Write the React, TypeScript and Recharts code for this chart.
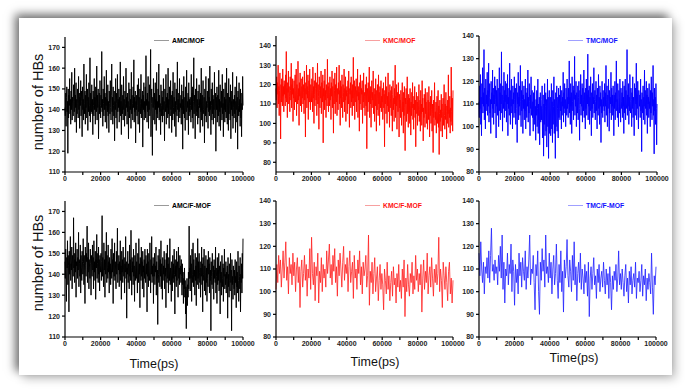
import { LineChart, Line, XAxis, YAxis, Legend } from "recharts";

const AMC_MOF = [
  141,137,148,132,146,151,139,144,119,150,136,147,142,155,138,145,133,149,140,158,135,146,143,137,152,
  144,139,160,134,147,141,153,129,145,138,150,143,136,156,140,148,131,146,142,154,137,149,144,127,151,
  140,145,135,162,143,138,149,133,147,141,157,136,144,150,130,146,139,153,142,137,165,134,148,143,139,
  152,138,145,128,149,142,137,155,140,146,133,151,144,139,161,135,147,141,150,126,143,148,138,154,142,
  136,147,141,168,139,145,132,150,143,137,156,140,148,134,146,142,159,131,145,139,152,137,144,129,149,
  143,138,154,141,135,147,162,139,146,133,151,142,137,149,125,144,140,155,136,148,143,131,157,139,145,
  141,150,134,146,139,163,137,144,128,152,142,138,147,135,156,140,145,132,149,143,137,160,141,146,133,
  148,139,144,126,153,142,136,150,140,145,131,158,138,147,143,135,151,141,164,134,146,139,149,124,144,
  140,147,137,152,142,133,155,139,146,129,150,143,138,157,136,145,141,149,122,147,140,153,135,144,139,
  151,136,166,142,145,134,148,139,156,131,144,140,152,137,147,169,127,143,150,138,118,146,141,155,135,
  142,148,133,153,140,145,130,158,138,144,136,150,141,162,135,147,139,143,128,152,142,137,149,134,146,
  140,155,137,144,125,150,143,139,157,133,146,141,148,136,160,138,145,131,151,142,137,154,140,147,129,
  143,149,135,158,141,138,146,132,153,139,144,127,150,142,137,163,140,145,134,148,139,155,136,143,141,
  147,133,152,140,145,121,149,138,156,142,136,146,130,151,143,139,159,135,144,141,148,128,153,137,145,
  139,146,142,134,157,140,148,136,151,131,144,165,138,147,141,126,150,143,137,155,139,145,133,149,142,
  136,152,141,145,129,148,139,160,135,143,147,132,154,140,138,146,124,150,142,137,156,134,144,141,149,
  143,131,155,139,146,137,161,140,144,128,150,142,135,153,138,147,133,145,140,158,136,143,148,120,146,
  140,151,134,147,142,137,159,132,145,139,152,130,144,141,149,135,157,138,143,127,150,140,146,134,153,
  139,145,136,160,141,133,148,142,130,155,138,146,143,135,152,126,149,140,144,137,158,131,145,141,136,
  147,138,151,129,144,140,156,134,146,121,149,142,137,153,139,145,132,150,136,143,127,148,140,156,142,
];

const KMC_MOF = [
  118,112,124,108,121,115,130,110,119,104,117,126,113,92,120,111,123,116,109,128,114,119,106,122,115,
  120,109,125,113,137,111,118,103,121,116,127,110,119,114,106,124,117,112,131,108,120,115,123,101,118,
  113,122,107,119,125,111,117,128,104,120,115,110,132,112,118,99,121,114,126,109,117,123,106,119,113,
  124,110,116,120,105,127,112,118,93,121,115,130,108,119,113,125,102,117,122,111,128,114,107,120,116,
  111,123,117,106,129,113,119,100,122,115,109,126,118,112,121,104,116,131,110,120,114,97,124,117,108,
  119,113,127,105,121,116,111,125,90,118,114,122,107,128,112,117,103,120,115,109,133,113,119,106,121,
  116,109,124,112,118,102,121,114,127,108,119,113,95,123,110,117,126,105,120,115,111,129,104,118,113,
  107,121,115,130,110,117,99,122,113,119,108,125,114,103,120,116,111,128,106,118,112,124,101,117,114,
  119,105,116,122,110,127,113,98,118,115,121,108,124,111,117,104,120,113,134,109,116,122,102,115,119,
  111,123,106,117,114,128,103,119,112,116,96,121,110,125,113,107,118,115,122,100,117,111,126,108,114,
  116,104,120,112,109,124,87,114,118,106,121,111,115,129,103,117,110,119,98,113,122,108,116,112,127,
  105,113,118,101,115,109,123,111,96,117,107,120,113,104,125,110,116,99,119,112,108,122,106,114,111,
  118,102,113,121,108,115,88,117,110,124,105,112,119,100,114,109,126,106,116,112,98,120,108,113,117,
  104,119,111,96,115,122,107,113,101,118,110,130,103,114,109,120,97,112,116,106,121,111,93,115,108,
  112,103,117,109,99,114,121,106,111,95,116,104,119,108,86,113,110,118,101,107,124,105,112,98,115,
  106,113,100,118,109,94,111,104,116,108,121,102,110,97,114,107,119,103,112,88,109,116,105,111,99,
  114,104,109,120,101,107,112,96,117,105,110,99,122,106,113,91,108,103,115,110,98,118,105,111,100,
  109,116,97,106,112,102,119,108,93,111,104,114,100,107,117,96,110,105,85,112,103,108,121,99,106,
  102,111,95,108,114,100,106,117,98,109,84,105,112,101,107,96,115,103,110,93,106,113,99,108,120,
  104,97,110,102,116,106,92,109,100,112,105,125,98,107,103,114,95,108,101,129,106,99,113,96,117,
];

const TMC_MOF = [
  111,104,118,108,123,101,113,96,119,110,126,106,115,109,134,103,117,111,99,121,107,114,110,124,105,
  116,109,128,102,113,119,106,112,97,120,110,115,104,125,108,117,101,114,110,122,106,118,112,95,116,
  109,121,105,113,117,100,111,126,107,115,103,119,110,133,106,114,98,118,112,108,124,104,116,111,120,
  107,114,102,119,110,123,96,113,108,117,105,128,111,101,116,109,121,106,112,99,118,110,115,104,122,
  112,106,117,101,114,119,108,93,115,110,124,103,113,109,118,105,127,111,100,116,107,120,112,97,114,
  108,118,103,112,107,121,99,115,110,104,117,109,125,102,113,106,119,111,96,114,108,122,105,110,116,
  104,111,98,115,106,101,118,103,109,94,112,105,116,100,108,121,97,110,103,113,92,107,115,102,109,
  103,112,118,95,108,114,87,110,101,119,96,109,115,98,112,91,106,121,100,113,86,108,116,97,110,
  113,96,107,119,99,111,93,116,101,109,122,97,112,103,86,115,100,110,118,98,108,113,95,117,104,
  108,114,103,118,107,111,99,116,105,113,109,124,102,115,108,119,106,112,100,117,110,105,121,108,113,
  104,117,110,129,106,113,101,119,109,115,97,122,111,107,118,103,116,112,131,105,114,109,120,100,115,
  111,106,118,103,113,120,108,94,116,110,123,105,114,109,119,102,117,112,107,125,104,115,110,99,117,
  108,121,105,114,110,132,103,116,109,118,101,113,107,122,111,96,115,108,119,104,113,110,126,106,112,
  116,103,111,120,107,114,99,117,110,105,123,108,113,101,118,109,115,93,112,106,120,110,104,116,109,
  113,107,119,102,115,109,127,105,112,118,100,114,108,121,111,98,116,106,113,110,124,103,117,109,114,
  105,118,110,96,114,108,120,103,115,111,129,107,112,104,119,109,100,116,113,106,121,110,102,117,108,
  111,115,104,120,109,113,97,118,106,112,121,103,116,110,108,134,105,114,109,119,101,113,107,123,111,
  106,117,112,100,115,108,122,104,113,109,96,119,111,105,117,110,128,103,114,108,120,107,99,116,112,
  109,114,104,121,107,112,89,115,110,106,118,103,113,109,125,101,116,108,111,120,105,114,97,117,110,
  113,104,119,108,111,100,116,106,122,110,103,115,109,127,105,112,88,117,107,113,101,119,108,92,110,
];

const AMC_F_MOF = [
  146,138,152,141,127,148,143,156,135,149,144,122,151,140,147,158,137,145,142,153,133,149,146,139,167,
  143,150,136,147,141,155,129,146,144,152,138,148,142,160,134,147,145,139,154,131,149,143,137,151,146,
  140,157,145,135,149,142,126,153,144,139,150,146,163,136,148,141,155,133,147,143,138,152,145,130,149,
  144,139,154,142,148,133,156,141,146,137,151,128,147,143,159,138,145,150,136,153,140,147,132,149,144,
  141,150,137,146,168,139,148,143,134,155,142,147,129,151,140,145,160,136,149,143,138,154,141,146,131,
  148,140,145,135,152,143,138,157,141,147,126,150,144,139,155,137,146,142,133,151,140,147,162,136,145,
  142,149,134,146,140,156,137,144,128,151,141,147,136,153,143,139,148,131,145,141,158,138,146,119,143,
  140,151,136,145,142,133,154,139,147,137,161,143,130,148,141,146,135,152,139,144,127,149,142,137,155,
  138,146,141,131,150,143,136,157,140,145,124,148,142,137,153,139,146,133,151,141,144,129,147,138,152,
  143,136,149,140,145,122,152,139,146,134,150,141,137,155,143,131,147,140,158,136,144,139,148,126,145,
  139,150,135,144,141,153,130,146,138,142,116,149,140,136,152,143,134,147,139,156,133,145,141,128,148,
  137,144,140,151,133,147,139,143,124,150,141,136,154,138,145,131,148,142,137,157,135,143,140,127,146,
  141,132,149,138,145,136,152,140,121,147,139,144,134,151,137,146,142,129,153,138,143,135,149,140,144,
  136,147,139,130,145,135,141,126,138,133,143,129,137,121,134,114,130,138,125,135,129,141,133,163,138,
  143,132,149,138,145,127,152,140,136,155,134,147,139,142,130,150,137,144,125,148,140,135,157,138,146,
  133,150,141,136,146,129,143,139,153,135,145,122,148,140,137,152,132,144,141,130,149,136,143,127,147,
  138,134,151,140,145,131,148,137,142,113,146,139,135,150,141,133,144,128,147,138,142,136,153,131,143,
  139,126,148,135,142,137,150,132,144,140,121,146,136,141,130,149,138,134,145,127,143,139,152,133,140,
  135,146,131,141,138,144,119,148,134,140,129,145,137,132,150,136,142,113,147,135,139,128,144,137,133,
  142,130,147,136,139,124,146,134,141,131,151,137,127,144,139,133,148,122,140,136,145,131,150,138,157,
];

const KMC_F_MOF = [
  101,112,104,116,108,114,102,110,118,106,113,122,105,111,99,115,108,112,103,117,
  107,113,100,110,115,104,111,93,109,114,102,108,116,105,112,98,110,106,119,101,
  124,108,103,113,96,111,107,117,95,109,104,115,100,112,106,110,102,118,108,114,
  121,106,112,103,116,109,119,104,111,98,114,107,117,110,102,113,120,105,112,108,
  115,100,111,118,104,109,113,97,116,106,110,101,114,108,118,103,111,99,113,107,
  110,116,102,107,125,94,109,104,113,99,108,115,100,106,111,96,105,112,101,108,
  103,92,110,105,99,113,101,107,96,104,109,98,111,103,106,95,108,102,112,100,
  105,97,110,102,114,89,106,100,112,103,98,108,104,113,99,107,101,116,105,110,
  100,108,103,112,91,106,114,101,109,104,117,99,107,111,102,115,106,98,110,104,
  112,103,108,124,100,110,105,93,113,107,101,111,104,96,109,113,99,106,95,105,
];

const TMC_F_MOF = [
  117,107,122,110,104,113,99,111,108,115,106,118,104,116,128,109,112,105,114,108,
  111,103,116,109,120,106,125,101,113,95,110,107,117,103,112,108,121,100,114,109,
  94,112,104,110,99,117,107,113,102,115,109,105,118,101,111,106,114,125,103,110,
  108,116,104,92,112,107,118,100,90,113,105,119,109,114,102,125,108,111,104,117,
  106,113,99,110,116,103,108,121,105,97,112,104,118,100,109,91,114,106,111,123,
  107,102,114,109,100,116,105,122,103,111,96,108,113,104,117,101,110,106,99,112,
  104,109,98,113,89,106,111,101,108,115,103,107,97,110,104,112,100,106,109,102,
  113,105,99,110,103,108,97,111,104,92,107,101,109,105,112,100,106,118,103,108,
  101,110,104,98,107,112,100,106,95,109,103,111,99,105,108,102,113,97,106,104,
  109,100,105,112,98,107,103,110,96,106,101,108,104,99,117,102,90,107,103,111,
];

const T_MAX = 100000;
const X_TICKS = [0, 10000, 20000, 30000, 40000, 50000, 60000, 70000, 80000, 90000, 100000];
const Y_TICKS_AMC = [110, 120, 130, 140, 150, 160, 170];
const Y_TICKS_LOW = [80, 90, 100, 110, 120, 130, 140];

const FONT = "'Liberation Sans', Arial, sans-serif";

const toPoints = (arr: number[]) =>
  arr.map((v, i) => ({ t: (i * T_MAX) / (arr.length - 1), v }));

type Panel = {
  name: string;
  values: number[];
  color: string;
  legendLine: string;
  textColor: string;
  domain: [number, number];
  ticks: number[];
  box: [number, number, number, number]; // plot left, right, top, bottom
  legendAt: [number, number];
  width: number;
};

const panels: Panel[] = [
  { name: "AMC/MOF", values: AMC_MOF, color: "#000000", legendLine: "#9a9a9a", textColor: "#000",
    domain: [110, 175], ticks: Y_TICKS_AMC, box: [65, 243, 37, 172], legendAt: [154, 40.5], width: 0.95 },
  { name: "KMC/MOF", values: KMC_MOF, color: "#ff0a00", legendLine: "#f7a0a0", textColor: "#ff1010",
    domain: [75, 145], ticks: Y_TICKS_LOW, box: [276, 453, 36, 172], legendAt: [365, 40.7], width: 0.95 },
  { name: "TMC/MOF", values: TMC_MOF, color: "#0500ff", legendLine: "#a0a0ff", textColor: "#1010ff",
    domain: [80, 140], ticks: Y_TICKS_LOW, box: [479, 657, 36, 172], legendAt: [568, 40.3], width: 0.95 },
  { name: "AMC/F-MOF", values: AMC_F_MOF, color: "#000000", legendLine: "#9a9a9a", textColor: "#000",
    domain: [110, 175], ticks: Y_TICKS_AMC, box: [65, 243, 201, 337], legendAt: [154, 205], width: 0.95 },
  { name: "KMC/F-MOF", values: KMC_F_MOF, color: "#ff2020", legendLine: "#f7a0a0", textColor: "#ff1010",
    domain: [80, 140], ticks: Y_TICKS_LOW, box: [276, 453, 201, 337], legendAt: [365, 205], width: 0.8 },
  { name: "TMC/F-MOF", values: TMC_F_MOF, color: "#2020ff", legendLine: "#a0a0ff", textColor: "#1010ff",
    domain: [80, 140], ticks: Y_TICKS_LOW, box: [479, 656, 201, 337], legendAt: [568, 205], width: 0.8 },
];

const Y_AXIS_W = 30;
const TOP_PAD = 5;
const RIGHT_PAD = 16;
const X_AXIS_H = 20;

// tick text drawn by hand so the colour stays a plain dark grey
const XTick = (props: any) => {
  const { x, y, payload } = props;
  const v = payload.value as number;
  if (v % 20000 !== 0) return <g />;
  return (
    <text x={x} y={y} dy="0.71em" textAnchor="middle" fontSize={7} fontWeight={700} fill="#222" fontFamily={FONT}>
      {v}
    </text>
  );
};

const YTick = (props: any) => {
  const { x, y, payload } = props;
  return (
    <text x={x} y={y} dy="0.355em" textAnchor="end" fontSize={7} fontWeight={700} fill="#222" fontFamily={FONT}>
      {payload.value}
    </text>
  );
};

const PanelChart = ({ p }: { p: Panel }) => {
  const [x0, x1, y0, y1] = p.box;
  const left = x0 - Y_AXIS_W;
  const top = y0 - TOP_PAD;
  const w = x1 - x0 + Y_AXIS_W + RIGHT_PAD;
  const h = y1 - y0 + TOP_PAD + X_AXIS_H;
  return (
    <div style={{ position: "absolute", left, top }}>
      <LineChart
        width={w}
        height={h}
        data={toPoints(p.values)}
        margin={{ top: TOP_PAD, right: RIGHT_PAD, left: 0, bottom: 0 }}
      >
        <XAxis
          dataKey="t"
          type="number"
          domain={[0, T_MAX]}
          ticks={X_TICKS}
          interval={0}
          height={X_AXIS_H}
          tickSize={3}
          tickMargin={1}
          tick={<XTick />}
          stroke="#000"
          strokeWidth={1.2}
        />
        <YAxis
          type="number"
          domain={p.domain}
          ticks={p.ticks}
          interval={0}
          width={Y_AXIS_W}
          tickSize={3}
          tickMargin={2}
          tick={<YTick />}
          stroke="#000"
          strokeWidth={1.2}
          allowDataOverflow
        />
        <Legend
          layout="horizontal"
          verticalAlign="middle"
          align="center"
          wrapperStyle={{ left: p.legendAt[0] - left, top: p.legendAt[1] - top - 5, width: 90, height: 10 }}
          content={() => (
            <div style={{ display: "flex", alignItems: "center", height: 10 }}>
              <span style={{ display: "inline-block", width: 15, height: 1, background: p.legendLine }} />
              <span style={{ marginLeft: 3, fontSize: 6.8, fontWeight: 700, color: p.textColor, fontFamily: FONT, whiteSpace: "nowrap" }}>
                {p.name}
              </span>
            </div>
          )}
        />
        <Line
          dataKey="v"
          name={p.name}
          stroke={p.color}
          strokeWidth={p.width}
          dot={false}
          isAnimationActive={false}
        />
      </LineChart>
    </div>
  );
};

const App = () => {
  return (
    <div style={{ position: "absolute", left: 0, top: 0, width: 685, height: 389, background: "#fff", overflow: "hidden", fontFamily: FONT }}>
      <div
        style={{
          position: "absolute",
          left: 19,
          top: 18,
          width: 653,
          height: 357,
          background: "#fff",
          boxShadow: "-4px -4px 9px rgba(0,0,0,0.55), 4px 4px 9px rgba(0,0,0,0.22)",
        }}
      />
      <svg width={685} height={389} style={{ position: "absolute", left: 0, top: 0 }}>
        <text x={43} y={102} transform="rotate(-90 43 102)" textAnchor="middle" fontSize={14.5} fill="#111" fontFamily={FONT}>
          number of HBs
        </text>
        <text x={43} y={263} transform="rotate(-90 43 263)" textAnchor="middle" fontSize={14.5} fill="#111" fontFamily={FONT}>
          number of HBs
        </text>
        <text x={154} y={368} textAnchor="middle" fontSize={12.5} fill="#111" fontFamily={FONT}>Time(ps)</text>
        <text x={375} y={366} textAnchor="middle" fontSize={12.5} fill="#111" fontFamily={FONT}>Time(ps)</text>
        <text x={574} y={362} textAnchor="middle" fontSize={12.5} fill="#111" fontFamily={FONT}>Time(ps)</text>
      </svg>
      {panels.map((p) => (
        <PanelChart key={p.name} p={p} />
      ))}
    </div>
  );
};

export default App;
